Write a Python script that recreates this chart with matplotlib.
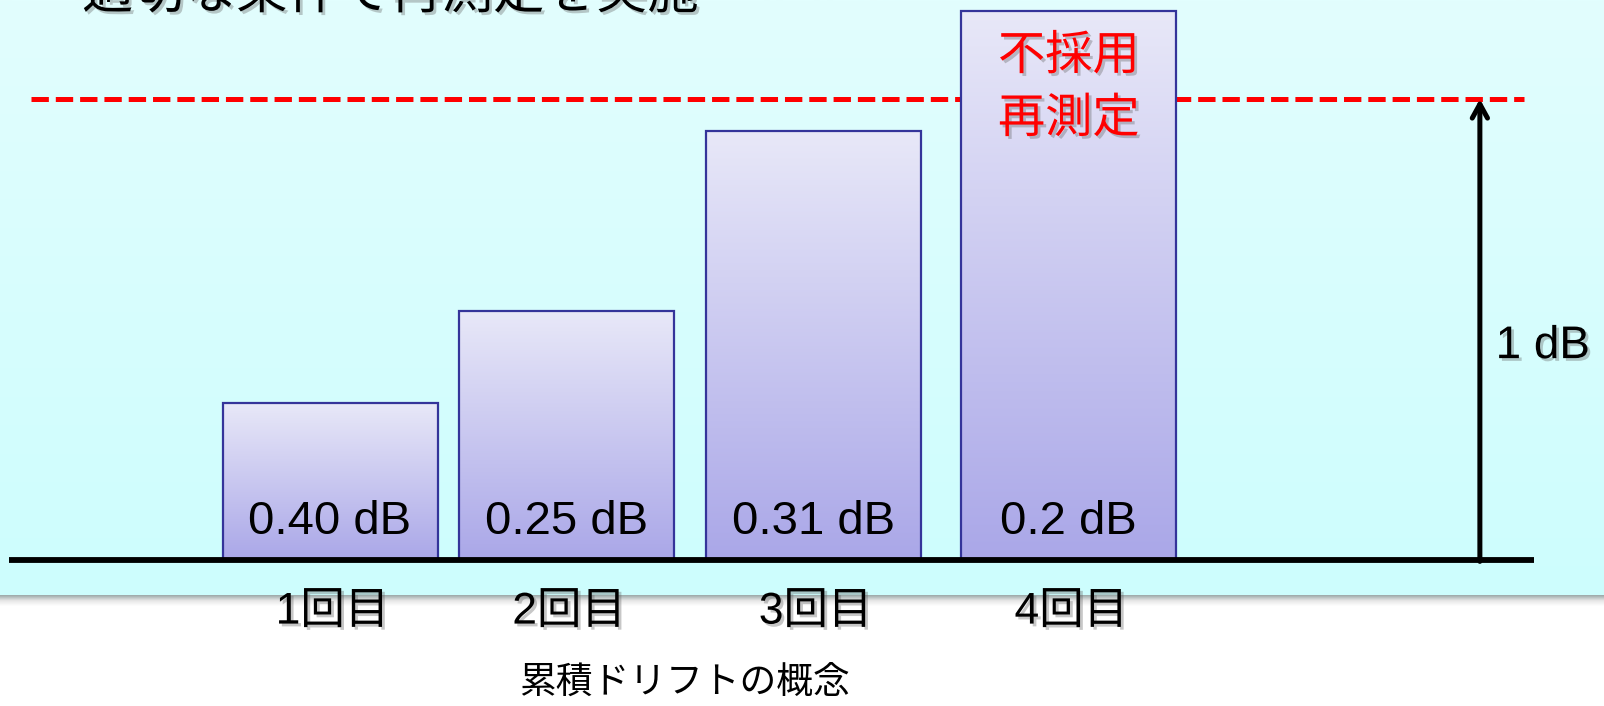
"""Cumulative drift concept: per-run drift bars stacked up against a 1 dB limit."""

import matplotlib.pyplot as plt
import matplotlib.patheffects as pe
import numpy as np
from matplotlib.colors import LinearSegmentedColormap

plt.rcParams["font.family"] = ["Liberation Sans", "Noto Sans CJK JP", "DejaVu Sans"]
plt.rcParams["lines.scale_dashes"] = False

# data
runs = ["1回目", "2回目", "3回目", "4回目"]
drift_labels = ["0.40 dB", "0.25 dB", "0.31 dB", "0.2 dB"]
bar_heights = [0.34, 0.54, 0.93, 1.19]     # drawn cumulative level, dB
limit_db = 1.0
limit_label = "1 dB"
rejected_text = "不採用\n再測定"
caption = "累積ドリフトの概念"
header = "適切な条件で再測定を実施"

# layout: bar slots are not quite evenly spaced in the original slide
BAR_X = [0.0, 0.961, 1.962, 3.0]

W, H = 1604, 706
fig = plt.figure(figsize=(W / 100, H / 100), dpi=100)
ax = fig.add_axes([0, 0, 1, 1])
ax.set_axis_off()

# axes mapped so bars sit on the baseline and 1 dB lands on the dashed line
XLIM = (-1.340, 5.173)
YLIM = (-0.3167, 1.2148)

# background: light cyan panel with a soft shadow underneath, white below
bg = LinearSegmentedColormap.from_list("bg", ["#cdfdfd", "#e2fefe"])
panel_bottom = -0.078
ax.imshow(np.linspace(0, 1, 256)[:, None], cmap=bg, origin="lower",
          extent=(XLIM[0], XLIM[1], panel_bottom, YLIM[1]), aspect="auto", zorder=0)
shade = LinearSegmentedColormap.from_list("sh", ["#ffffff", "#e6e6e6", "#9aa8a8"])
ax.imshow(np.linspace(0, 1, 64)[:, None], cmap=shade, origin="lower",
          extent=(XLIM[0], XLIM[1], panel_bottom - 0.022, panel_bottom),
          aspect="auto", zorder=0.5)

# limit line (hidden behind the last bar)
ax.hlines(limit_db, -1.214, 4.848, colors="#ff0000", lw=3.6,
          linestyles=(0, (12.5, 5.0)), zorder=1)

bars = ax.bar(BAR_X, bar_heights, width=0.873, facecolor="none",
              edgecolor="#34349a", lw=1.6, zorder=4)
barcm = LinearSegmentedColormap.from_list("bar", ["#aaa7e8", "#e8e8f8"])
for b in bars:
    x0, y0 = b.get_x(), b.get_y()
    ax.imshow(np.linspace(0, 1, 256)[:, None], cmap=barcm, origin="lower",
              extent=(x0, x0 + b.get_width(), y0, y0 + b.get_height()),
              aspect="auto", zorder=3)

# baseline
ax.hlines(0, -1.303, 4.888, colors="black", lw=4.2, zorder=5)

# 1 dB arrow
ax.annotate("", xy=(4.669, limit_db), xytext=(4.669, -0.003),
            arrowprops=dict(arrowstyle="->,head_length=1.0,head_width=0.55",
                            lw=3.6, color="black", shrinkA=0, shrinkB=0,
                            capstyle="round", joinstyle="round"),
            zorder=5)

shadow = [pe.withSimplePatchShadow(offset=(2, -2), shadow_rgbFace="#606060", alpha=0.35)]

ax.text(4.733, 0.464, limit_label, fontsize=33, ha="left", va="center",
        path_effects=shadow, zorder=6)

for xi, lab in zip(BAR_X, drift_labels):
    ax.text(xi, 0.082, lab, fontsize=34, ha="center", va="center", zorder=6)

for xi, lab in zip(BAR_X, runs):
    ax.text(xi + 0.01, -0.113, lab, fontsize=32, ha="center", va="center",
            path_effects=shadow, zorder=6)

ax.text(BAR_X[-1], 1.022, rejected_text, fontsize=34, color="#ff0000",
        ha="center", va="center", linespacing=1.55,
        path_effects=shadow, zorder=6)

ax.text(1.441, -0.267, caption, fontsize=26.5, ha="center", va="center", zorder=6)

# header sentence, mostly cut off by the top edge
ax.text(-1.007, 1.197, header, fontsize=37, ha="left", va="baseline",
        path_effects=shadow, zorder=6)

ax.set_xlim(*XLIM)
ax.set_ylim(*YLIM)
fig.savefig("out.png", dpi=100)
